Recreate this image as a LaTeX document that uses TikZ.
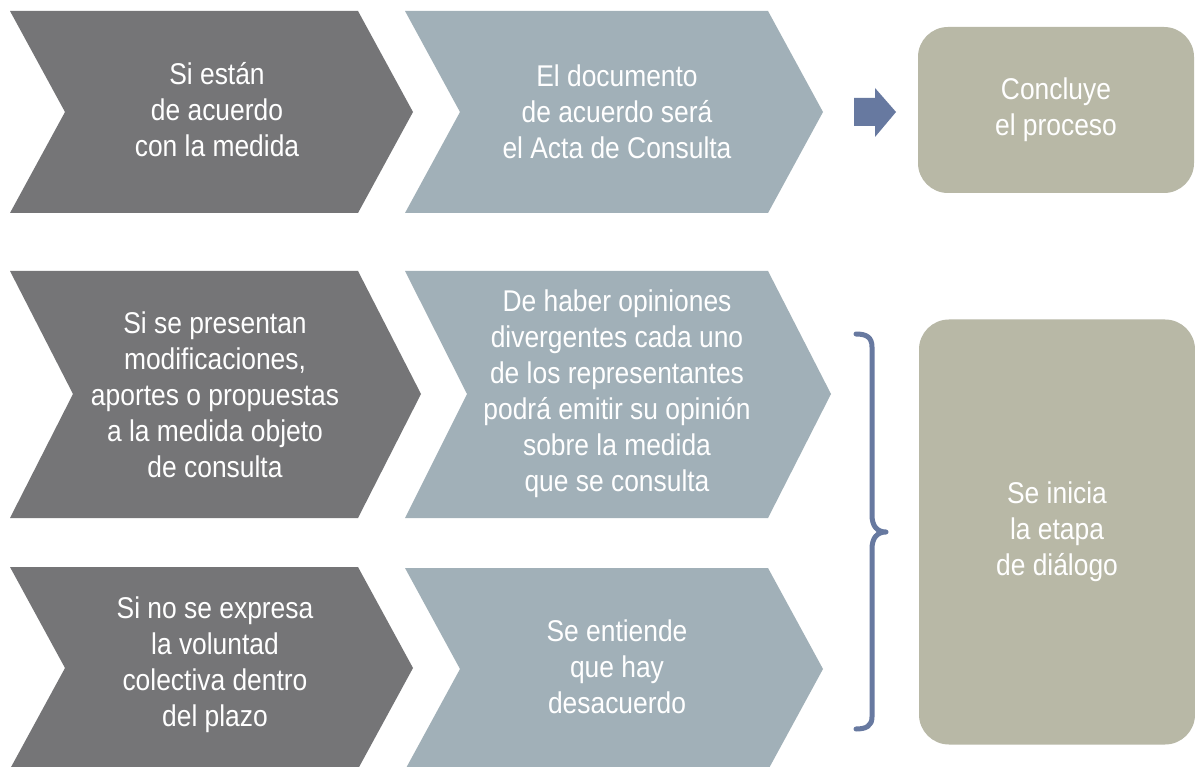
\documentclass[tikz,border=0pt]{standalone}
\usepackage{fontspec}
\setmainfont{Liberation Sans}[FakeStretch=0.88]
\definecolor{darkg}{HTML}{757577}
\definecolor{lightg}{HTML}{A1B0B8}
\definecolor{tanbox}{HTML}{B8B8A6}
\definecolor{accent}{HTML}{6779A0}
\begin{document}
\begin{tikzpicture}[x=1pt,y=-1pt,
  txt/.style={text=white, align=center, font=\fontsize{30}{36}\selectfont, inner sep=0pt},
  endbox/.style={txt, fill=tanbox, rounded corners=30pt, minimum width=276pt},
  bracestyle/.style={draw=accent, line width=5pt, line cap=round, line join=round}]
\useasboundingbox (0,0) rectangle (1195,767);
\fill[white] (0,0) rectangle (1195,767);
% row 1
\fill[darkg] (10,11) -- (358,11) -- (413,112) -- (358,213) -- (10,213) -- (65,112) -- cycle;
\fill[lightg] (405,11) -- (768,11) -- (823,112) -- (768,213) -- (405,213) -- (460,112) -- cycle;
% row 2
\fill[darkg] (10,271) -- (358,271) -- (421,394) -- (358,518) -- (10,518) -- (73,394) -- cycle;
\fill[lightg] (405,271) -- (768,271) -- (831,394) -- (768,518) -- (405,518) -- (467,394) -- cycle;
% row 3
\fill[darkg] (10,567) -- (358,567) -- (413,668) -- (358,769) -- (10,769) -- (65,668) -- cycle;
\fill[lightg] (405,568) -- (768,568) -- (823,669) -- (768,770) -- (405,770) -- (460,669) -- cycle;
% texts
\node[txt] (t1) at (217,110) {Si están\\de acuerdo\\con la medida};
\node[txt] (t2) at (617,112) {El documento\\de acuerdo será\\el Acta de Consulta};
\node[txt] (t3) at (215,395) {Si se presentan\\modificaciones,\\aportes o propuestas\\a la medida objeto\\de consulta};
\node[txt] (t4) at (617,394) {De haber opiniones\\divergentes cada uno\\de los representantes\\podrá emitir su opinión\\sobre la medida\\que se consulta};
\node[txt] (t5) at (215,665) {Si no se expresa\\la voluntad\\colectiva dentro\\del plazo};
\node[txt] (t6) at (617,667) {Se entiende\\que hay\\desacuerdo};
% end boxes
\node[endbox, minimum height=166pt] (conc) at (1056,110) {Concluye\\el proceso};
\node[endbox, minimum height=425pt] (dial) at (1057,532) {Se inicia\\la etapa\\de diálogo};
% block arrow
\fill[accent] (854,98) -- (875,98) -- (875,88) -- (896,112) -- (875,137) -- (875,126) -- (854,126) -- cycle;
% brace
\draw[bracestyle] (856,334) .. controls (866,334) and (872,337) .. (872,347) -- (872,515)
  .. controls (872,526) and (877,532) .. (886,532)
  .. controls (877,532) and (872,538) .. (872,549) -- (872,717)
  .. controls (872,726) and (866,729) .. (856,729);
\end{tikzpicture}
\end{document}
